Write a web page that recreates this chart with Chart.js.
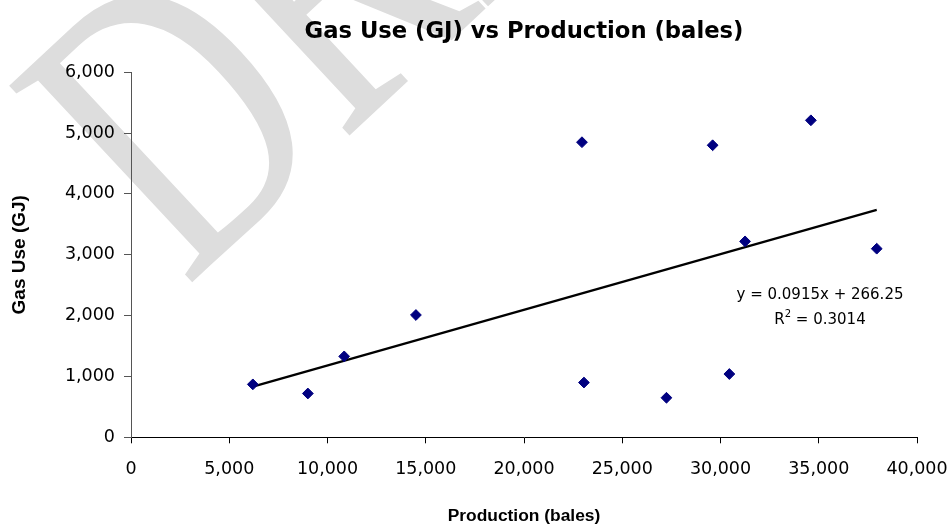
<!DOCTYPE html>
<html>
<head>
    <title>Gas Use (GJ) vs Production (bales)</title>
    <script src="https://cdn.jsdelivr.net/npm/chart.js@4.4.1/dist/chart.umd.min.js"></script>
    <style>
        html, body { margin:0; padding:0; background:#fff; }
        #wrap { width:952px; height:531px; }
    </style>
</head>
<body>
<div id="wrap">
    <canvas id="myChart" width="952" height="531"></canvas>
</div>
<script>
// values
let produkcja = [6200, 9000, 10850, 14500, 22950, 23050, 27250, 29600, 30450, 31250, 34600, 37950];
let gaz = [870, 720, 1330, 2010, 4850, 900, 650, 4800, 1040, 3220, 5210, 3100];

// linear trend as printed on the chart
let nachylenie = 0.0915;
let wyraz_wolny = 266.25;
let r2 = '0.3014';

let xTicki = [0, 5000, 10000, 15000, 20000, 25000, 30000, 35000, 40000];
let yTicki = [0, 1000, 2000, 3000, 4000, 5000, 6000];

let punkty = produkcja.map((p, i) => ({x: p, y: gaz[i]}));
let xMin = Math.min(...produkcja);
let xMax = Math.max(...produkcja);
let trend = [
    {x: xMin, y: nachylenie * xMin + wyraz_wolny},
    {x: xMax, y: nachylenie * xMax + wyraz_wolny}
];

const fmt = v => Number(v).toLocaleString('en-US');

// grey DRAFT watermark behind everything
const znakWodny = {
    id: 'znakWodny',
    beforeDraw(chart) {
        const ctx = chart.ctx;
        ctx.save();
        ctx.translate(186, 288);
        ctx.rotate(-43 * Math.PI / 180);
        ctx.scale(0.72, 1);
        ctx.font = '410px "Liberation Serif", "Times New Roman", serif';
        ctx.fillStyle = '#dddddd';
        ctx.textBaseline = 'alphabetic';
        ctx.fillText('DRAFT', 0, 0);
        ctx.restore();
    }
};

// trendline equation + R squared
const rownanie = {
    id: 'rownanie',
    afterDatasetsDraw(chart) {
        const ctx = chart.ctx;
        const cx = 820;
        ctx.save();
        ctx.fillStyle = '#000';
        ctx.textBaseline = 'middle';
        ctx.font = '15px "DejaVu Sans", sans-serif';
        ctx.textAlign = 'center';
        ctx.fillText('y = ' + nachylenie + 'x + ' + wyraz_wolny.toFixed(2), cx, 295);

        ctx.textAlign = 'left';
        const a = 'R', b = '2', c = ' = ' + r2;
        ctx.font = '15px "DejaVu Sans", sans-serif';
        const wa = ctx.measureText(a).width;
        const wc = ctx.measureText(c).width;
        ctx.font = '10px "DejaVu Sans", sans-serif';
        const wb = ctx.measureText(b).width;
        let x = cx - (wa + wb + wc) / 2;
        ctx.font = '15px "DejaVu Sans", sans-serif';
        ctx.fillText(a, x, 320);
        ctx.font = '10px "DejaVu Sans", sans-serif';
        ctx.fillText(b, x + wa, 314);
        ctx.font = '15px "DejaVu Sans", sans-serif';
        ctx.fillText(c, x + wa + wb, 320);
        ctx.restore();
    }
};

var ctx = document.getElementById('myChart').getContext('2d');
var myChart = new Chart(ctx, {
    type: 'scatter',
    data: {
        datasets: [
            {
                label: 'Gas Use (GJ)',
                data: punkty,
                pointStyle: 'rectRot',
                pointRadius: 5.4,
                pointHoverRadius: 5.4,
                pointBackgroundColor: '#000080',
                pointBorderColor: '#000080',
                pointBorderWidth: 1,
                order: 1
            },
            {
                label: 'Linear',
                data: trend,
                showLine: true,
                borderColor: '#000',
                borderWidth: 2.2,
                pointRadius: 0,
                pointHoverRadius: 0,
                fill: false,
                order: 2
            }
        ]
    },
    options: {
        responsive: false,
        maintainAspectRatio: false,
        animation: false,
        events: [],
        layout: { padding: { left: 0, right: 0, top: 0, bottom: 0 } },
        plugins: {
            legend: { display: false },
            tooltip: { enabled: false },
            title: {
                display: true,
                fullSize: false,
                text: 'Gas Use (GJ) vs Production (bales)',
                color: '#000',
                font: { family: '"DejaVu Sans", sans-serif', size: 22.7, weight: 'bold' },
                padding: { top: 18, bottom: 27 }
            }
        },
        scales: {
            x: {
                type: 'linear',
                min: 0,
                max: 40000,
                afterBuildTicks: s => { s.ticks = xTicki.map(v => ({value: v})); },
                afterFit: s => { s.height = 531 - 437.3; s.paddingRight = 35; s.paddingLeft = 0; },
                ticks: {
                    callback: v => fmt(v),
                    color: '#000',
                    font: { family: '"DejaVu Sans", sans-serif', size: 17.5 },
                    padding: 16,
                    maxRotation: 0,
                    autoSkip: false
                },
                grid: { drawOnChartArea: false, drawTicks: true, tickLength: 6, color: '#000' },
                border: { color: '#000', width: 1 },
                title: {
                    display: true,
                    text: 'Production (bales)',
                    color: '#000',
                    font: { family: '"Liberation Sans", Arial, sans-serif', size: 17.4, weight: 'bold' },
                    padding: { top: 4, bottom: 4 }
                }
            },
            y: {
                type: 'linear',
                min: 0,
                max: 6000,
                afterBuildTicks: s => { s.ticks = yTicki.map(v => ({value: v})); },
                afterFit: s => { s.width = 131; },
                ticks: {
                    callback: v => fmt(v),
                    color: '#000',
                    font: { family: '"DejaVu Sans", sans-serif', size: 17.5 },
                    padding: 9,
                    autoSkip: false
                },
                grid: { drawOnChartArea: false, drawTicks: true, tickLength: 7, color: '#555' },
                border: { color: '#555', width: 1 },
                title: {
                    display: true,
                    text: 'Gas Use (GJ)',
                    color: '#000',
                    font: { family: '"Liberation Sans", Arial, sans-serif', size: 19, weight: 'bold' },
                    padding: { top: 8, bottom: 0 }
                }
            }
        }
    },
    plugins: [znakWodny, rownanie]
});
</script>
</body>
</html>
